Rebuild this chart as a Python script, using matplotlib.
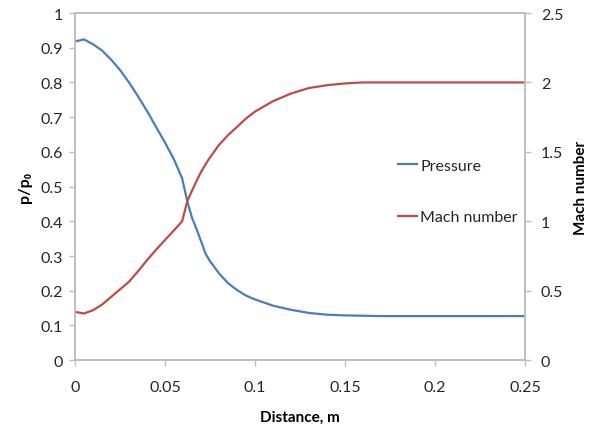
import matplotlib
matplotlib.use('Agg')
import matplotlib.pyplot as plt

plt.rcParams['font.family'] = ['Lato', 'DejaVu Sans']

# distance along the nozzle (m)
distance = [0, 0.005, 0.01, 0.015, 0.02, 0.025, 0.03, 0.035, 0.04, 0.045, 0.05,
            0.055, 0.0595, 0.0625, 0.065, 0.0675, 0.07, 0.0725, 0.075, 0.0775,
            0.08, 0.085, 0.09, 0.095, 0.1, 0.11, 0.12, 0.13, 0.14, 0.15, 0.16,
            0.17, 0.18, 0.19, 0.2, 0.21, 0.22, 0.23, 0.24, 0.25]

# p/p0
pressure = [0.918, 0.924, 0.910, 0.892, 0.866, 0.836, 0.800, 0.760, 0.718, 0.672, 0.627,
            0.578, 0.524, 0.455, 0.410, 0.378, 0.343, 0.307, 0.285, 0.268,
            0.250, 0.222, 0.202, 0.186, 0.175, 0.157, 0.145, 0.136, 0.131, 0.129, 0.128,
            0.127, 0.127, 0.127, 0.127, 0.127, 0.127, 0.127, 0.127, 0.127]

mach = [0.348, 0.336, 0.36, 0.40, 0.455, 0.51, 0.565, 0.64, 0.72, 0.795, 0.865,
        0.935, 1.00, 1.15, 1.22, 1.29, 1.355, 1.41, 1.46, 1.505,
        1.55, 1.62, 1.68, 1.74, 1.79, 1.865, 1.92, 1.96, 1.98, 1.993, 2.0,
        2.0, 2.0, 2.0, 2.0, 2.0, 2.0, 2.0, 2.0, 2.0]

blue = '#4A7EBB'
red = '#BE4B48'
grey = '#BFBFBF'
txt = '#262626'

fig = plt.figure(figsize=(6, 4.31), dpi=100)
ax = fig.add_axes([0.125, 0.162, 0.75, 0.8055])
ax2 = ax.twinx()

l1, = ax.plot(distance, pressure, color=blue, lw=1.6, label='Pressure')
l2, = ax2.plot(distance, mach, color=red, lw=1.6, label='Mach number')

ax.set_xlim(0, 0.25)
ax.set_ylim(0, 1)
ax2.set_ylim(0, 2.5)
ax.set_xticks([0, 0.05, 0.1, 0.15, 0.2, 0.25])
ax.set_xticklabels(['0', '0.05', '0.1', '0.15', '0.2', '0.25'])
ax.set_yticks([i / 10 for i in range(11)])
ax.set_yticklabels(['0', '0.1', '0.2', '0.3', '0.4', '0.5', '0.6', '0.7', '0.8', '0.9', '1'])
ax2.set_yticks([0, 0.5, 1, 1.5, 2, 2.5])
ax2.set_yticklabels(['0', '0.5', '1', '1.5', '2', '2.5'])

for a in (ax, ax2):
    for s in a.spines.values():
        s.set_color(grey)
        s.set_linewidth(1.2)
ax.tick_params(axis='both', direction='out', length=4.5, width=1, color=grey,
               labelsize=11.5, labelcolor=txt)
ax.tick_params(axis='x', pad=10)
ax.tick_params(axis='y', pad=4)
ax2.tick_params(axis='y', direction='out', length=4.5, width=1, color=grey,
                labelsize=11.5, labelcolor=txt, pad=7)

ax.set_xlabel('Distance, m', fontsize=11, fontweight='bold', color='black')
ax.xaxis.set_label_coords(0.5, -0.142)
ax.set_ylabel('p/p₀', fontsize=11.5, fontweight='bold', color='black')
ax.yaxis.set_label_coords(-0.095, 0.5)
ax2.set_ylabel('Mach number', fontsize=11, fontweight='bold', color='black')
ax2.yaxis.set_label_coords(1.108, 0.5)

fig.legend(handles=[l1, l2], loc='upper left', bbox_to_anchor=(0.663, 0.63),
           frameon=False, fontsize=11.5, handlelength=1.2, handletextpad=0.2,
           labelspacing=2.35, borderpad=0, borderaxespad=0, labelcolor=txt)

fig.savefig('out.png', dpi=100)
